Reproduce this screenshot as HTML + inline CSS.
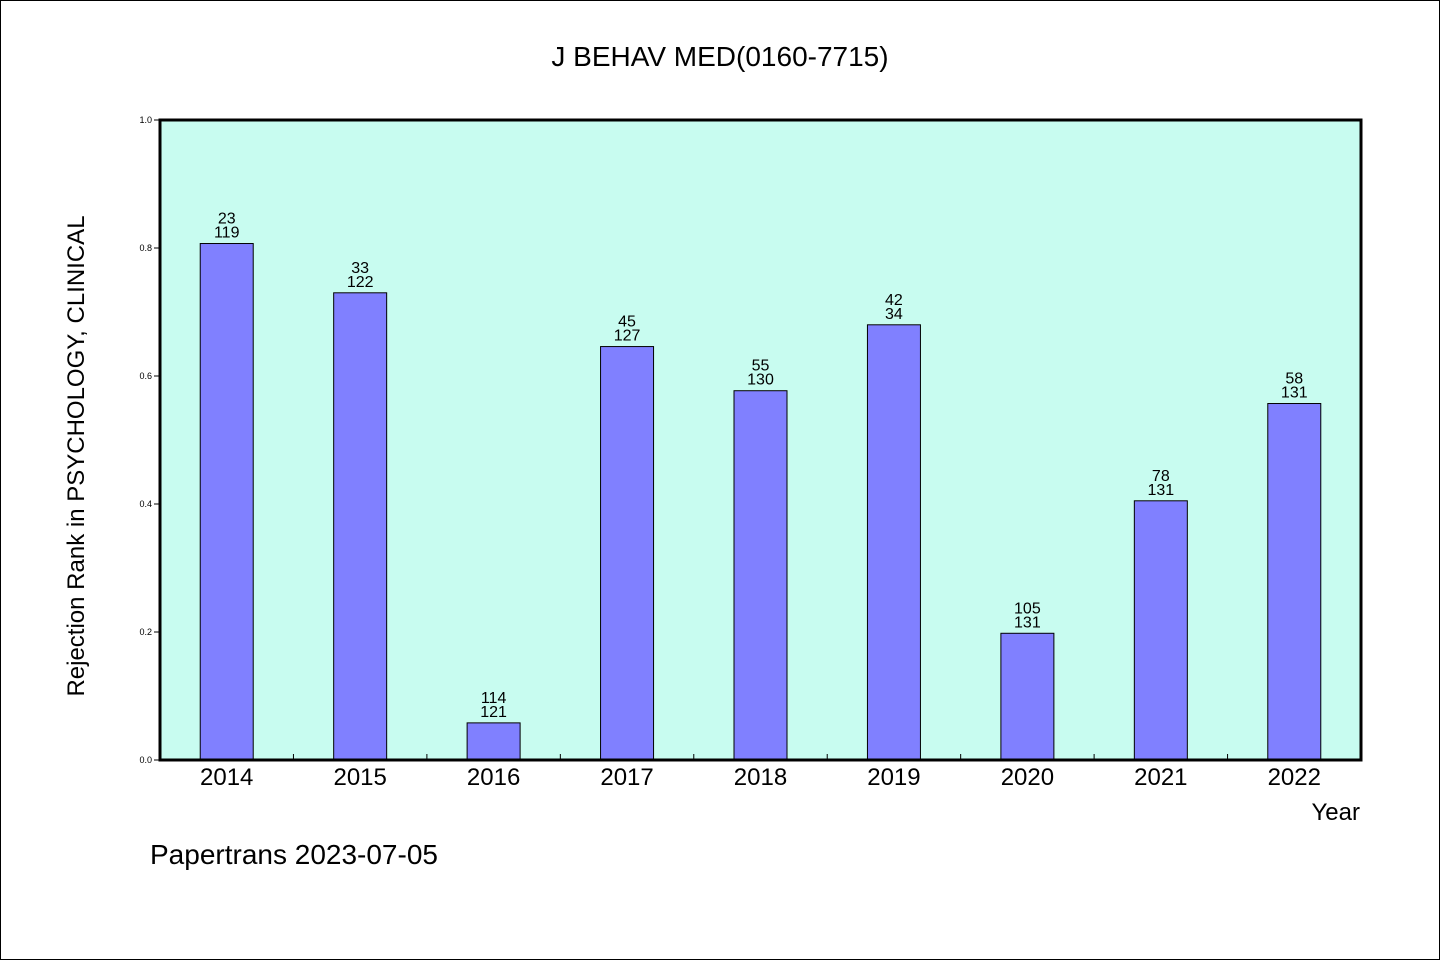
<!DOCTYPE html>
<html><head><meta charset="utf-8"><style>
body{margin:0;background:#fff}
svg text{font-family:"WenQuanYi Zen Hei","Liberation Sans",sans-serif;fill:#000}
</style></head><body>
<svg width="1440" height="960" xmlns="http://www.w3.org/2000/svg">
<rect x="0.5" y="0.5" width="1439" height="959" fill="#fff" stroke="#000"/>
<text x="720" y="66" font-size="28" text-anchor="middle">J BEHAV MED(0160-7715)</text>
<rect x="160" y="120" width="1201" height="640" fill="#c8fcf0"/>
<g id="bars"></g>
<rect x="160" y="120" width="1201" height="640" fill="none" stroke="#000" stroke-width="3"/>
<g id="axes"></g>
<text x="84" y="456" font-size="24" text-anchor="middle" transform="rotate(-90 84 456)">Rejection Rank in PSYCHOLOGY, CLINICAL</text>
<text x="1360" y="820" font-size="24" text-anchor="end">Year</text>
<text x="150" y="864" font-size="28">Papertrans 2023-07-05</text>
</svg>
<script>
const categories=["2014","2015","2016","2017","2018","2019","2020","2021","2022"];
const values=[0.807,0.730,0.058,0.646,0.577,0.680,0.198,0.405,0.557];
const topLabels=["23","33","114","45","55","42","105","78","58"];
const bottomLabels=["119","122","121","127","130","34","131","131","131"];
const yTicks=[0,0.2,0.4,0.6,0.8,1.0];
const NS="http://www.w3.org/2000/svg";
const L=160,R=1361,T=120,B=760;
const step=(R-L)/categories.length;
const y=v=>B-v*(B-T);
const x=i=>L+step*(i+0.5);
function mk(tag,attrs,parent){const e=document.createElementNS(NS,tag);for(const k in attrs)e.setAttribute(k,attrs[k]);parent.appendChild(e);return e;}
const bars=document.getElementById('bars'),axes=document.getElementById('axes');
categories.forEach((c,i)=>{
 const r=mk('rect',{x:x(i)-26.5,y:y(values[i]),width:53,height:B-y(values[i]),fill:'#8080ff',stroke:'#000','stroke-width':1},bars);
 
 
 const t1=mk('text',{x:x(i),y:y(values[i])-20,'font-size':16,'text-anchor':'middle'},bars);t1.textContent=topLabels[i];
 
 
 const t2=mk('text',{x:x(i),y:y(values[i])-6,'font-size':16,'text-anchor':'middle'},bars);t2.textContent=bottomLabels[i];
 
 
 const xl=mk('text',{x:x(i),y:785,'font-size':24,'text-anchor':'middle'},axes);xl.textContent=c;
 
 
 if(i>0){const tk=mk('line',{x1:L+step*i,x2:L+step*i,y1:B,y2:B-6,stroke:'#000','stroke-width':1},axes);
 
 }
});
yTicks.forEach(v=>{
 const tk=mk('line',{x1:L-6,x2:L,y1:y(v),y2:y(v),stroke:'#000','stroke-width':1},axes);
 
 
 const t=mk('text',{x:L-8,y:y(v)+3,'font-size':9,'text-anchor':'end'},axes);t.textContent=v.toFixed(1);
 
 
});
</script>
</body></html>
